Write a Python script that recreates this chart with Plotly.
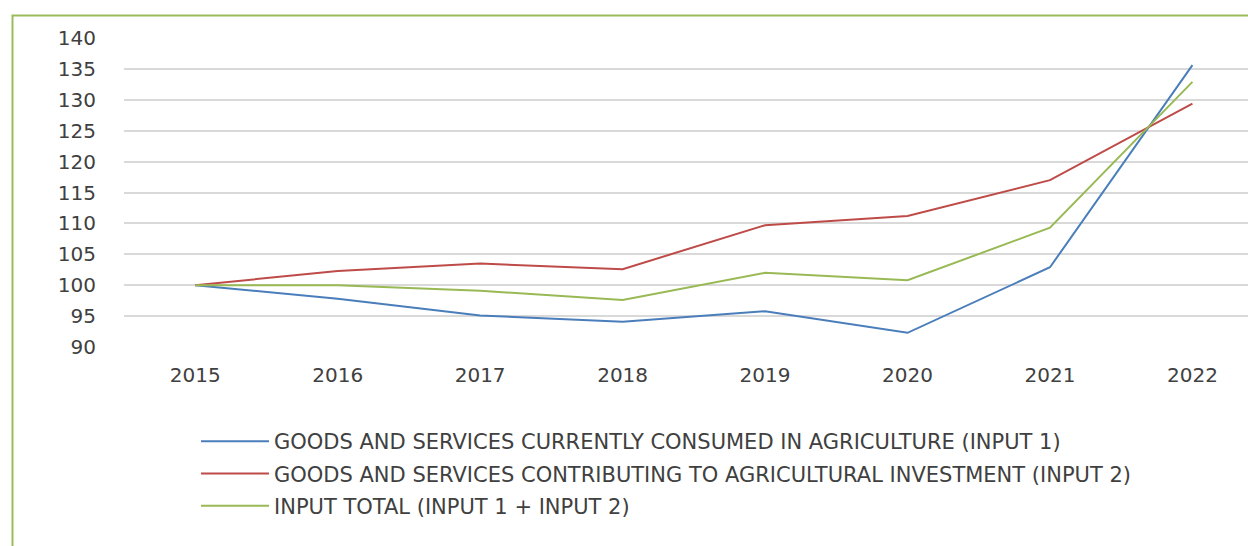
import plotly.graph_objects as go

years = ["2015", "2016", "2017", "2018", "2019", "2020", "2021", "2022"]
input1 = [100, 97.8, 95.1, 94.1, 95.8, 92.3, 102.9, 135.6]
input2 = [100, 102.3, 103.5, 102.6, 109.7, 111.2, 117.0, 129.4]
input_total = [100, 100.0, 99.1, 97.6, 102.0, 100.8, 109.3, 132.9]

names = [
    "GOODS AND SERVICES CURRENTLY CONSUMED IN AGRICULTURE (INPUT 1)",
    "GOODS AND SERVICES CONTRIBUTING TO AGRICULTURAL INVESTMENT (INPUT 2)",
    "INPUT TOTAL (INPUT 1 + INPUT 2)",
]
colors = ["#4a7ebb", "#be4b48", "#98b954"]
series = [input1, input2, input_total]

fig = go.Figure()
for i, (nm, vals, c) in enumerate(zip(names, series, colors)):
    fig.add_trace(go.Scatter(x=years, y=vals, mode="lines", name=nm,
                             legendgroup=f"g{i}",
                             line=dict(color=c, width=2)))

# body margin is removed below, so work in page coordinates directly
W, H = 1248, 546
L, R, T, B = 124, 0, 38, 546 - 347
pw, ph = W - L - R, H - T - B

def px(x):
    return (x - L) / pw

def py(y):
    return (H - B - y) / ph

fig.add_shape(type="rect", xref="paper", yref="paper",
              x0=px(12.5), x1=px(1270), y0=py(15.5), y1=py(600),
              line=dict(color="#9bbb59", width=2), fillcolor="rgba(0,0,0,0)",
              layer="below")

fig.update_layout(
    width=W, height=H,
    margin=dict(l=L, r=R, t=T, b=B),
    paper_bgcolor="white", plot_bgcolor="white",
    font=dict(family="DejaVu Sans", size=20, color="#404040"),
    xaxis=dict(type="category", range=[-0.5, 7.39], showgrid=False,
               showline=False, zeroline=False, ticks="",
               ticklabelstandoff=14,
               tickfont=dict(family="DejaVu Sans", size=20, color="#404040")),
    yaxis=dict(range=[90, 140], dtick=5, showgrid=True, gridcolor="#d9d9d9",
               gridwidth=1.5, zeroline=False, showline=False, ticks="",
               ticklabelstandoff=27,
               tickfont=dict(family="DejaVu Sans", size=20, color="#404040")),
    showlegend=True,
    legend=dict(x=px(196), y=py(421), xanchor="left", yanchor="top",
                orientation="v", tracegroupgap=2, itemwidth=68,
                bgcolor="rgba(0,0,0,0)",
                font=dict(family="DejaVu Sans", size=21, color="#404040")),
)

fig.write_html(
    "out.html",
    config={"displayModeBar": False},
    post_script="document.body.style.margin='0';document.body.style.overflow='hidden';",
)
